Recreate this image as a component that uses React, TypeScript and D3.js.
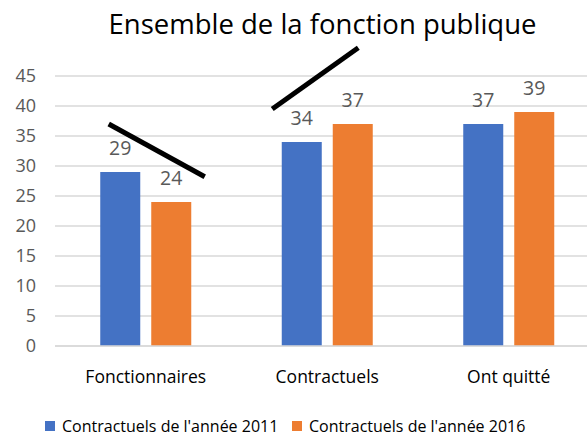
import React from "react";
import * as d3 from "d3";

const categories = ["Fonctionnaires", "Contractuels", "Ont quitté"];
const seriesNames = ["Contractuels de l'année 2011", "Contractuels de l'année 2016"];
const values2011 = [29, 34, 37];
const values2016 = [24, 37, 39];
const yTicks = [0, 5, 10, 15, 20, 25, 30, 35, 40, 45];
const colors = ["#4472C4", "#ED7D31"];
// hand-drawn annotation strokes: [category index, offset within band (fraction of step), value]
const strokeA = [[0, -0.204, 37], [0, 0.325, 28.2]];
const strokeB = [[1, -0.303, 39.5], [1, 0.171, 49.7]];

const W = 587;
const H = 436;
const FONT = "'Open Sans', sans-serif";

export default function App() {
  const x = d3.scaleBand<string>().domain(categories).range([55, 599.5]).paddingInner(0).paddingOuter(0);
  const y = d3.scaleLinear().domain([0, 45]).range([346, 76]);
  const barW = 40;
  const gap = 11;
  const series = [values2011, values2016];
  const center = (i: number) => (x(categories[i]) ?? 0) + x.bandwidth() / 2;
  const strokePt = (p: number[]) => [center(p[0]) + p[1] * x.step(), y(p[2])] as [number, number];
  const line = d3.line();

  return (
    <svg width={W} height={H} style={{ position: "absolute", left: 0, top: 0, background: "#fff" }} fontFamily={FONT}>
      <rect width={W} height={H} fill="#fff" />
      <text x={322.5} y={34} textAnchor="middle" fontSize={27.5} fill="#000">Ensemble de la fonction publique</text>
      {yTicks.map((t) => (
        <g key={t}>
          <line x1={55} x2={W} y1={y(t)} y2={y(t)} stroke="#D9D9D9" strokeWidth={1.3} />
          <text x={36} y={y(t)} dy="0.36em" textAnchor="end" fontSize={18} fill="#595959">{t}</text>
        </g>
      ))}
      {series.map((vals, s) =>
        vals.map((v, i) => {
          const bx = center(i) - gap / 2 - barW + s * (barW + gap);
          return (
            <g key={`${s}-${i}`}>
              <rect x={bx} y={y(v)} width={barW} height={y(0) - y(v)} fill={colors[s]} />
              <text x={bx + barW / 2} y={y(v) - 17} textAnchor="middle" fontSize={19.5} fill="#595959">{v}</text>
            </g>
          );
        })
      )}
      <line x1={55} x2={W} y1={y(0)} y2={y(0)} stroke="#D9D9D9" strokeWidth={1.3} />
      {categories.map((c, i) => (
        <text key={c} x={center(i)} y={y(0) + 37} textAnchor="middle" fontSize={17.5} fill="#000">{c}</text>
      ))}
      {[strokeA, strokeB].map((st, k) => (
        <path key={k} d={line(st.map(strokePt)) ?? ""} stroke="#000" strokeWidth={5} fill="none" />
      ))}
      {seriesNames.map((n, i) => {
        const lx = i === 0 ? 45 : 292;
        return (
          <g key={n}>
            <rect x={lx} y={421} width={10} height={10} fill={colors[i]} />
            <text x={lx + 17} y={432} fontSize={16} fill="#000">{n}</text>
          </g>
        );
      })}
    </svg>
  );
}
